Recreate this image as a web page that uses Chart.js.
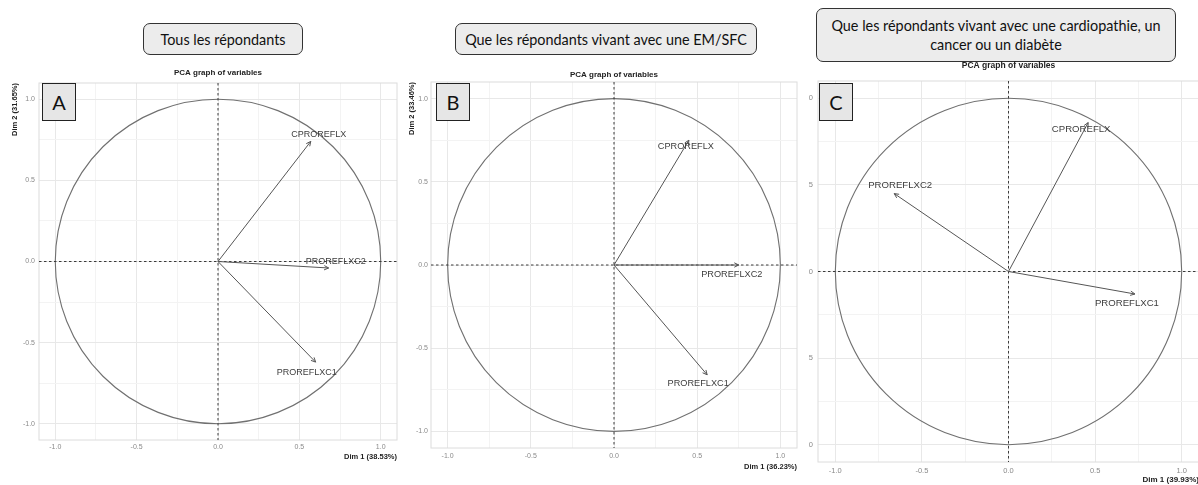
<!DOCTYPE html>
<html>
<head>
<meta charset="utf-8">
<script src="https://cdn.jsdelivr.net/npm/chart.js@4.4.1/dist/chart.umd.min.js"></script>
<style>
  body { margin: 0; width: 1198px; height: 485px; overflow: hidden; background: #fff; position: relative; }
  .group {
    position: absolute; box-sizing: border-box; display: flex; align-items: center; justify-content: center;
    text-align: center; background: #ececec; border: 1.3px solid #333; border-radius: 7px;
    font-family: Lato, "Open Sans", sans-serif; font-size: 14.4px; line-height: 19px; color: #111;
  }
  .tag {
    position: absolute; box-sizing: border-box; display: flex; align-items: center; justify-content: center;
    background: #e6e6e6; border: 1.3px solid #222;
    font-family: Lato, "Open Sans", sans-serif; font-size: 20px; color: #111;
  }
  .wrap { position: absolute; }
</style>
</head>
<body>
<div class="group" style="left:143px;top:23px;width:160px;height:32px">Tous les répondants</div>
<div class="group" style="left:455px;top:23px;width:302px;height:32px">Que les répondants vivant avec une EM/SFC</div>
<div class="group" style="left:816px;top:8px;width:360px;height:54px">Que les répondants vivant avec une cardiopathie, un<br>cancer ou un diabète</div>

<div class="wrap" style="left:0px;top:60px"><canvas id="chart-a" width="400" height="402"></canvas></div>
<div class="wrap" style="left:400px;top:60px"><canvas id="chart-b" width="400" height="412"></canvas></div>
<div class="wrap" style="left:809px;top:60px"><canvas id="chart-c" width="400" height="425"></canvas></div>

<div class="tag" style="left:42px;top:83px;width:34px;height:38px">A</div>
<div class="tag" style="left:436px;top:83px;width:34px;height:38px">B</div>
<div class="tag" style="left:819px;top:83px;width:34px;height:38px">C</div>

<script>
const variables = ['CPROREFLX', 'PROREFLXC2', 'PROREFLXC1'];

// coordinates of the variables on Dim 1 / Dim 2
const dim1A = [0.57, 0.68, 0.60];
const dim2A = [0.74, -0.04, -0.62];
const dim1B = [0.45, 0.75, 0.56];
const dim2B = [0.75, 0.00, -0.66];
const dim1C = [0.46, -0.66, 0.73];
const dim2C = [0.86, 0.45, -0.13];

const xTitles = ['Dim 1 (38.53%)', 'Dim 1 (36.23%)', 'Dim 1 (39.93%)'];
const yTitles = ['Dim 2 (31.65%)', 'Dim 2 (33.46%)', 'Dim 2 (39.93%)'];

const tickValues = [-1, -0.5, 0, 0.5, 1];
const tickLabels = ['-1.0', '-0.5', '0.0', '0.5', '1.0'];
const gridValues = [-1, -0.75, -0.5, -0.25, 0, 0.25, 0.5, 0.75, 1];

const chartTitle = 'PCA graph of variables';

const FONT = '"Liberation Sans", Arial, sans-serif';

// per panel layout (pixels)
const panels = [
  { id: 'chart-a', dim1: dim1A, dim2: dim2A, yWidth: 39, xHeight: 22, top: 23, right: 3,
    titleFont: 8, titleGap: 10, tickFont: 7, tickPadX: 3, tickPadY: 4,
    axisFont: 7.5, yTitlePad: 10.5, showYTitle: true, labelFont: 9,
    labelOffsets: [[8, -7], [7, -6], [-9, 10]] },
  { id: 'chart-b', dim1: dim1B, dim2: dim2B, yWidth: 31, xHeight: 24, top: 22, right: 3,
    titleFont: 8, titleGap: 7.5, tickFont: 7, tickPadX: 3.8, tickPadY: 3,
    axisFont: 7.5, yTitlePad: 7.5, showYTitle: true, labelFont: 9.2,
    labelOffsets: [[-3, 6], [-7, 9], [-9, 9]] },
  { id: 'chart-c', dim1: dim1C, dim2: dim2C, yWidth: 9, xHeight: 23, top: 21, right: 10,
    titleFont: 8.5, titleGap: 15, tickFont: 7.5, tickPadX: 4.5, tickPadY: 5,
    axisFont: 8, yTitlePad: 0, showYTitle: false, labelFont: 9.6,
    labelOffsets: [[-7, 7], [6, -8], [-8, 9]] }
];

const pcaDecor = {
  id: 'pcaDecor',
  beforeDatasetsDraw(chart) {
    const { ctx, chartArea: a, scales: { x, y } } = chart;
    const cx = x.getPixelForValue(0), cy = y.getPixelForValue(0);
    ctx.save();
    ctx.strokeStyle = '#dcdcdc';
    ctx.lineWidth = 1;
    ctx.strokeRect(a.left, a.top, a.right - a.left, a.bottom - a.top);
    // unit circle
    ctx.strokeStyle = '#707070';
    ctx.lineWidth = 1.1;
    ctx.beginPath();
    ctx.ellipse(cx, cy, x.getPixelForValue(1) - cx, cy - y.getPixelForValue(1), 0, 0, Math.PI * 2);
    ctx.stroke();
    // zero lines
    ctx.strokeStyle = '#3a3a3a';
    ctx.lineWidth = 1;
    ctx.setLineDash([2.5, 2.5]);
    ctx.beginPath();
    ctx.moveTo(a.left, cy); ctx.lineTo(a.right, cy);
    ctx.moveTo(cx, a.top); ctx.lineTo(cx, a.bottom);
    ctx.stroke();
    ctx.restore();
  },
  afterDatasetsDraw(chart, args, opts) {
    const { ctx, chartArea: a, scales: { x } } = chart;
    ctx.save();
    chart.data.datasets.forEach((ds, i) => {
      const pts = chart.getDatasetMeta(i).data;
      const p0 = pts[0], p1 = pts[1];
      const ang = Math.atan2(p1.y - p0.y, p1.x - p0.x);
      ctx.strokeStyle = '#555';
      ctx.lineWidth = 1;
      ctx.beginPath();
      [-0.45, 0.45].forEach(d => {
        ctx.moveTo(p1.x, p1.y);
        ctx.lineTo(p1.x - 5 * Math.cos(ang + d), p1.y - 5 * Math.sin(ang + d));
      });
      ctx.stroke();
      const off = opts.labelOffsets[i];
      ctx.fillStyle = '#3d3d3d';
      ctx.font = opts.labelFont + 'px ' + FONT;
      ctx.textAlign = 'center';
      ctx.textBaseline = 'middle';
      ctx.fillText(ds.label, p1.x + off[0], p1.y + off[1]);
    });
    // plot title, centred on the origin like ggplot does here
    ctx.fillStyle = '#222';
    ctx.font = 'bold ' + opts.titleFont + 'px ' + FONT;
    ctx.textAlign = 'center';
    ctx.textBaseline = 'middle';
    ctx.fillText(opts.title, x.getPixelForValue(0), a.top - opts.titleGap);
    ctx.restore();
  }
};

function axisTicks(scale) {
  scale.ticks = gridValues.map(value => ({ value }));
}

function gridColor(ctx) {
  return tickValues.includes(ctx.tick.value) ? '#e8e8e8' : '#f3f3f3';
}

panels.forEach((p, k) => {
  new Chart(document.getElementById(p.id), {
    type: 'scatter',
    data: {
      datasets: variables.map((name, i) => ({
        label: name,
        data: [{ x: 0, y: 0 }, { x: p.dim1[i], y: p.dim2[i] }],
        showLine: true,
        borderColor: '#555',
        borderWidth: 1,
        pointRadius: 0
      }))
    },
    options: {
      responsive: false,
      animation: false,
      layout: { padding: { top: p.top, right: p.right, bottom: 0, left: 0 } },
      plugins: {
        legend: { display: false },
        tooltip: { enabled: false },
        title: { display: false },
        pcaDecor: { labelOffsets: p.labelOffsets, labelFont: p.labelFont,
                    title: chartTitle, titleFont: p.titleFont, titleGap: p.titleGap }
      },
      scales: {
        x: {
          type: 'linear', min: -1.1, max: 1.1,
          afterBuildTicks: axisTicks,
          afterFit(scale) { scale.height = p.xHeight; },
          grid: { color: gridColor, drawTicks: false },
          border: { display: false },
          ticks: {
            padding: p.tickPadX, color: '#8a8a8a', maxRotation: 0, autoSkip: false,
            font: { family: FONT, size: p.tickFont },
            callback: v => tickLabels[tickValues.indexOf(v)] ?? ''
          },
          title: {
            display: true, text: xTitles[k], align: 'end', color: '#222',
            font: { family: FONT, size: p.axisFont, weight: 'bold' },
            padding: { top: 0, bottom: 0.5 }
          }
        },
        y: {
          type: 'linear', min: -1.1, max: 1.1,
          afterBuildTicks: axisTicks,
          afterFit(scale) { scale.width = p.yWidth; },
          grid: { color: gridColor, drawTicks: false },
          border: { display: false },
          ticks: {
            padding: p.tickPadY, color: '#8a8a8a', autoSkip: false,
            font: { family: FONT, size: p.tickFont },
            callback: v => tickLabels[tickValues.indexOf(v)] ?? ''
          },
          title: {
            display: p.showYTitle, text: yTitles[k], align: 'end', color: '#222',
            font: { family: FONT, size: p.axisFont, weight: 'bold' },
            padding: { top: p.yTitlePad, bottom: 0 }
          }
        }
      }
    },
    plugins: [pcaDecor]
  });
});
</script>
</body>
</html>
